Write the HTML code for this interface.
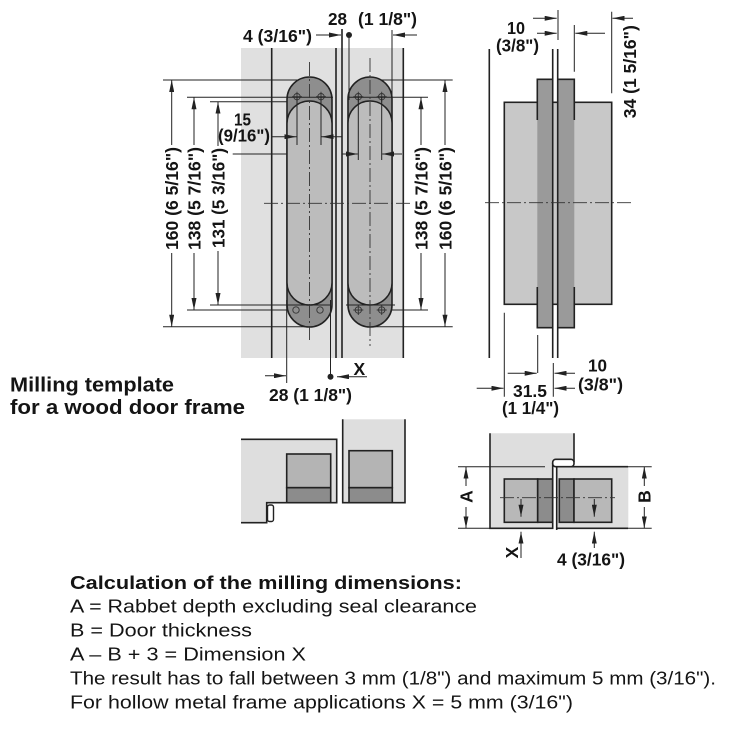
<!DOCTYPE html>
<html><head><meta charset="utf-8"><style>
html,body{margin:0;padding:0;background:#fff;}
svg{display:block}
text{font-family:"Liberation Sans",Arial,sans-serif;fill:#141414}
.b{font-weight:bold;font-size:17.5px}
.r{font-size:18px}
.h{font-weight:bold;font-size:20px}
.c{font-weight:bold;font-size:18px}
</style></head><body>
<svg width="731" height="730" viewBox="0 0 731 730" xmlns="http://www.w3.org/2000/svg">
<defs>
<marker id="a" markerWidth="12" markerHeight="5" refX="12" refY="2.5" orient="auto" markerUnits="userSpaceOnUse"><path d="M0,0 L12,2.5 L0,5 Z" fill="#222"/></marker>
</defs>

<!-- ===== TOP LEFT DRAWING ===== -->
<rect x="241" y="48" width="162" height="310" fill="#e0e0e0"/>
<g stroke="#222" stroke-width="1" fill="none">
<path d="M163,80H309 M370,80H452.7 M210,101.7H300 M163,326.7H309 M370,326.7H452.7 M232.7,154H287"/>
</g>

<!-- hinges -->
<rect x="287" y="77" width="45" height="250" rx="22.5" fill="#8e8e8e" stroke="#222" stroke-width="1.6"/>
<path d="M287,123.5 A22.5,22.5 0 0 1 332,123.5 V282.5 A22.5,22.5 0 0 1 287,282.5 Z" fill="#bcbcbc" stroke="#222" stroke-width="1.5"/>
<rect x="348" y="77" width="44" height="250" rx="22" fill="#8e8e8e" stroke="#222" stroke-width="1.6"/>
<path d="M348,123 A22,22 0 0 1 392,123 V283 A22,22 0 0 1 348,283 Z" fill="#bcbcbc" stroke="#222" stroke-width="1.5"/>

<!-- screw holes -->
<g stroke="#333" stroke-width="0.9" fill="none">
<circle cx="297" cy="96.7" r="3.2"/><path d="M292,96.7H302 M297,91.7V101.7"/>
<circle cx="321" cy="96.7" r="3.2"/><path d="M316,96.7H326 M321,91.7V101.7"/>
<circle cx="358.3" cy="96.7" r="3.2"/><path d="M353.3,96.7H363.3 M358.3,91.7V101.7"/>
<circle cx="381.7" cy="96.7" r="3.2"/><path d="M376.7,96.7H386.7 M381.7,91.7V101.7"/>
<circle cx="296" cy="310" r="3.2"/>
<circle cx="320" cy="310" r="3.2"/>
<circle cx="358.3" cy="310" r="3.2"/><path d="M353.3,310H363.3 M358.3,305V315"/>
<circle cx="381.7" cy="310" r="3.2"/><path d="M376.7,310H386.7 M381.7,305V315"/>
</g>

<!-- panel lines -->
<g stroke="#222" stroke-width="1.6" fill="none">
<path d="M271.7,48V358 M336,48V358 M342,29V358 M403.3,48V358"/>
</g>
<!-- overlay thin lines -->
<g stroke="#222" stroke-width="1" fill="none">
<path d="M187,97.3H333 M348,97.3H428 M187,310H287 M392,310H428 M210,305H331 M346,305H395"/>
<path d="M297,97V145 M321,97V145 M358.3,97V160 M381.7,97V160"/>
<path d="M349,35V100 M392,30V100 M286.7,300V383 M330.5,300V376.7"/>
</g>
<!-- center lines -->
<g stroke="#333" stroke-width="0.9" fill="none" stroke-dasharray="14 3 2 3">
<path d="M309.5,62V340 M370,58V346 M264,203.3H412"/>
</g>

<!-- dimension arrows -->
<g stroke="#222" stroke-width="1" fill="none" marker-end="url(#a)">
<path d="M171.7,145V80"/><path d="M171.7,253V326.7"/>
<path d="M194,145V97.3"/><path d="M194,253V310"/>
<path d="M218,146V101.7"/><path d="M218,251V305"/>
<path d="M421,145V97.3"/><path d="M421,253V310"/>
<path d="M445,145V80"/><path d="M445,253V326.7"/>
<path d="M272,136.7H296.5"/><path d="M342,136.7H321.5"/>
<path d="M342,154H357.8"/><path d="M402,154H382.2"/>
<path d="M316,35H341"/><path d="M417,35H393"/>
<path d="M265,375.7H286"/><path d="M367,376.7H337"/>
</g>
<circle cx="349" cy="35" r="3" fill="#222"/>
<circle cx="330.5" cy="376.7" r="3" fill="#222"/>

<!-- labels top-left -->
<text class="b" x="243" y="42" textLength="69" lengthAdjust="spacingAndGlyphs">4 (3/16")</text>
<text class="b" x="328" y="25" textLength="19" lengthAdjust="spacingAndGlyphs">28</text>
<text class="b" x="358" y="25" textLength="59" lengthAdjust="spacingAndGlyphs">(1 1/8")</text>
<text class="b" x="234" y="125.5" textLength="17" lengthAdjust="spacingAndGlyphs">15</text>
<text class="b" x="218" y="141.5" textLength="52" lengthAdjust="spacingAndGlyphs">(9/16")</text>
<text class="b" x="269" y="401" textLength="83" lengthAdjust="spacingAndGlyphs">28 (1 1/8")</text>
<text class="b" x="353.5" y="375">X</text>
<text class="b" transform="translate(178,198.5) rotate(-90)" text-anchor="middle" textLength="103" lengthAdjust="spacingAndGlyphs">160 (6 5/16")</text>
<text class="b" transform="translate(200.3,198.5) rotate(-90)" text-anchor="middle" textLength="103" lengthAdjust="spacingAndGlyphs">138 (5 7/16")</text>
<text class="b" transform="translate(224.3,198) rotate(-90)" text-anchor="middle" textLength="100" lengthAdjust="spacingAndGlyphs">131 (5 3/16")</text>
<text class="b" transform="translate(427.3,198.5) rotate(-90)" text-anchor="middle" textLength="103" lengthAdjust="spacingAndGlyphs">138 (5 7/16")</text>
<text class="b" transform="translate(451.3,198.5) rotate(-90)" text-anchor="middle" textLength="103" lengthAdjust="spacingAndGlyphs">160 (6 5/16")</text>

<!-- ===== TOP RIGHT DRAWING ===== -->
<rect x="504.3" y="102.3" width="107.4" height="202" fill="#c8c8c8" stroke="#222" stroke-width="1.6"/>
<rect x="537.3" y="79.3" width="15.4" height="248.4" fill="#9a9a9a"/>
<rect x="557.7" y="79.3" width="16.6" height="248.4" fill="#9a9a9a"/>
<g stroke="#222" stroke-width="1.6" fill="none">
<path d="M537.3,120V79.3H552.7 M537.3,287V327.7H552.7 M574.3,120V79.3H557.7 M574.3,287V327.7H557.7"/>
<path d="M489.3,49V358 M552.7,49V358 M557.7,49V358"/>
</g>
<path d="M485,202.7H632" stroke="#333" stroke-width="0.9" fill="none" stroke-dasharray="14 3 2 3"/>
<g stroke="#222" stroke-width="1" fill="none">
<path d="M558,10V40 M574.3,25V71.7 M611.7,11.7V93.3"/>
<path d="M504.3,312.7V396.7 M537.7,335V373 M553.3,363V396.7"/>
</g>
<g stroke="#222" stroke-width="1" fill="none" marker-end="url(#a)">
<path d="M533,18.3H556.7"/><path d="M537,33.3H556.7"/>
<path d="M605,33.3H575.3"/><path d="M633,18.3H612.5"/>
<path d="M507.7,373.3H536.7"/><path d="M476.7,388.3H503.5"/>
<path d="M575,373.3H554.5"/><path d="M575,388.3H554.5"/>
</g>
<text class="b" x="507" y="34" textLength="18" lengthAdjust="spacingAndGlyphs">10</text>
<text class="b" x="496" y="51.5" textLength="43" lengthAdjust="spacingAndGlyphs">(3/8")</text>
<text class="b" transform="translate(635.8,71.7) rotate(-90)" text-anchor="middle" textLength="93" lengthAdjust="spacingAndGlyphs">34 (1 5/16")</text>
<text class="b" x="513" y="397" textLength="34" lengthAdjust="spacingAndGlyphs">31.5</text>
<text class="b" x="502" y="414" textLength="57" lengthAdjust="spacingAndGlyphs">(1 1/4")</text>
<text class="b" x="588" y="371.5" textLength="19" lengthAdjust="spacingAndGlyphs">10</text>
<text class="b" x="578" y="390.5" textLength="45" lengthAdjust="spacingAndGlyphs">(3/8")</text>

<!-- ===== MILLING TEMPLATE TITLE ===== -->
<text class="h" x="10" y="391.7" textLength="164" lengthAdjust="spacingAndGlyphs">Milling template</text>
<text class="h" x="10" y="414" textLength="235" lengthAdjust="spacingAndGlyphs">for a wood door frame</text>

<!-- ===== BOTTOM LEFT MILLING ===== -->
<path d="M241,439.3H336.7V502.7H266.7V522.7H241Z" fill="#dedede"/>
<path d="M241,439.3H336.7V502.7H266.7V522.7H241" fill="none" stroke="#222" stroke-width="1.6"/>
<rect x="267.5" y="505" width="6" height="16.5" rx="2" fill="#fff" stroke="#222" stroke-width="1.4"/>
<rect x="286.7" y="454" width="44" height="33.7" fill="#b4b4b4" stroke="#222" stroke-width="1.6"/>
<rect x="286.7" y="487.7" width="44" height="15" fill="#8c8c8c" stroke="#222" stroke-width="1.6"/>
<rect x="342.7" y="419.3" width="62.3" height="83.4" fill="#dedede"/>
<path d="M342.7,419.3V502.7H405V419.3" fill="none" stroke="#222" stroke-width="1.6"/>
<rect x="349" y="450.7" width="43.3" height="37" fill="#b4b4b4" stroke="#222" stroke-width="1.6"/>
<rect x="349" y="487.7" width="43.3" height="15" fill="#8c8c8c" stroke="#222" stroke-width="1.6"/>

<!-- ===== BOTTOM RIGHT ===== -->
<polygon points="490,433.3 574,433.3 574,466 552.7,466 552.7,528.3 490,528.3" fill="#dedede"/>
<rect x="556.7" y="466.7" width="71.6" height="61.6" fill="#dedede"/>
<g stroke="#222" stroke-width="1" fill="none">
<path d="M458,466.7H545 M458,528.3H490 M628,466.7H651.7 M628,528.3H651.7"/>
</g>
<rect x="504.3" y="479" width="33.4" height="43.3" fill="#b8b8b8" stroke="#222" stroke-width="1.6"/>
<rect x="537.7" y="479" width="15" height="43.3" fill="#8c8c8c" stroke="#222" stroke-width="1.6"/>
<rect x="559.3" y="479" width="14.7" height="43.3" fill="#8c8c8c" stroke="#222" stroke-width="1.6"/>
<rect x="574" y="479" width="37.7" height="43.3" fill="#b8b8b8" stroke="#222" stroke-width="1.6"/>
<g stroke="#222" stroke-width="1.6" fill="none">
<path d="M490,433.3V528.3H552.7V463 M574,433.3V462 M556.7,530V466.7H628 M556.7,528.3H628"/>
</g>
<rect x="552.7" y="459.3" width="21.3" height="7.4" rx="3" fill="#fff" stroke="#222" stroke-width="1.6"/>
<path d="M500,497.7H615" stroke="#333" stroke-width="0.9" fill="none" stroke-dasharray="14 3 2 3"/>
<g stroke="#222" stroke-width="1" fill="none" marker-end="url(#a)">
<path d="M521,499V516.7"/><path d="M594.3,499V516.7"/>
<path d="M521,558V531.7"/><path d="M594.3,548V531.7"/>
<path d="M466,486V466.7"/><path d="M466,507V528.3"/>
<path d="M644.3,486V466.7"/><path d="M644.3,507V528.3"/>
</g>
<text class="b" transform="translate(472.3,496.5) rotate(-90)" text-anchor="middle">A</text>
<text class="b" transform="translate(650.6,496.5) rotate(-90)" text-anchor="middle">B</text>
<text class="b" transform="translate(517.8,552.5) rotate(-90)" text-anchor="middle">X</text>
<text class="b" x="557" y="565.5" textLength="68" lengthAdjust="spacingAndGlyphs">4 (3/16")</text>

<!-- ===== BOTTOM TEXT ===== -->
<text class="c" x="70" y="589" textLength="392" lengthAdjust="spacingAndGlyphs">Calculation of the milling dimensions:</text>
<text class="r" x="70" y="612.5" textLength="407" lengthAdjust="spacingAndGlyphs">A = Rabbet depth excluding seal clearance</text>
<text class="r" x="70" y="636.7" textLength="182" lengthAdjust="spacingAndGlyphs">B = Door thickness</text>
<text class="r" x="70" y="660.7" textLength="236" lengthAdjust="spacingAndGlyphs">A – B + 3 = Dimension X</text>
<text class="r" x="70" y="684.5" textLength="646" lengthAdjust="spacingAndGlyphs">The result has to fall between 3 mm (1/8") and maximum 5 mm (3/16").</text>
<text class="r" x="70" y="708.5" textLength="503" lengthAdjust="spacingAndGlyphs">For hollow metal frame applications X = 5 mm (3/16")</text>
</svg>
</body></html>
